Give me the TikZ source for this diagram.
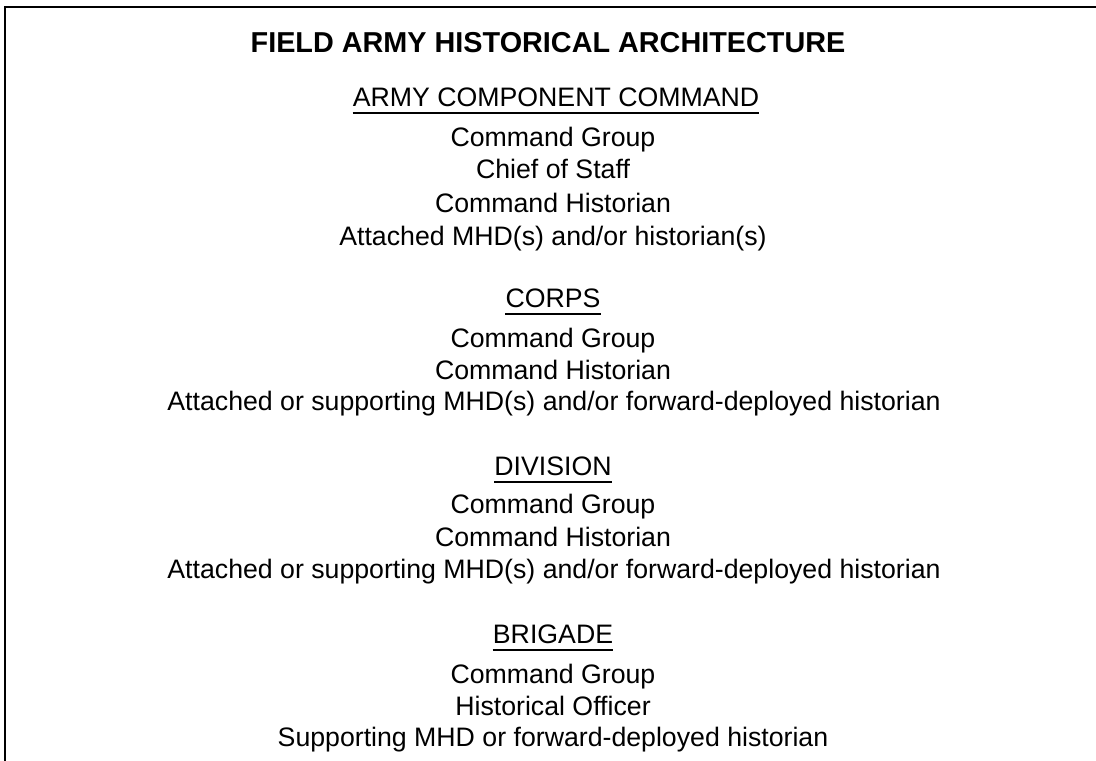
\documentclass[tikz,border=0pt]{standalone}
\usepackage{fontspec}
\setmainfont{Liberation Sans}
\begin{document}
\begin{tikzpicture}[x=1pt,y=-1pt,
  title/.style={anchor=base,inner sep=0pt,font=\fontsize{28.8}{34}\selectfont\bfseries},
  line/.style={anchor=base,inner sep=0pt,font=\fontsize{26.7}{32}\selectfont},
  head/.style={line},
  rule/.style={line width=2pt}]
\useasboundingbox (0,0) rectangle (1096,761);
% open frame: top and left edges only
\draw[line width=2pt] (4.5,761) -- (4.5,6.5) -- (1096,6.5);

\node[title] (t) at (548,52) {FIELD ARMY HISTORICAL ARCHITECTURE};

% Army component command
\node[head] (acc) at (556,106) {ARMY COMPONENT COMMAND};
\draw[rule] ([yshift=-6.5pt]acc.base west) -- ([yshift=-6.5pt]acc.base east);
\node[line] (acc1) at (553,146) {Command Group};
\node[line] (acc2) at (553,178) {Chief of Staff};
\node[line] (acc3) at (553,212) {Command Historian};
\node[line] (acc4) at (553,245) {Attached MHD(s) and/or historian(s)};

% Corps
\node[head] (co) at (553,307) {CORPS};
\draw[rule] ([yshift=-6.5pt]co.base west) -- ([yshift=-6.5pt]co.base east);
\node[line] (co1) at (553,347) {Command Group};
\node[line] (co2) at (553,379) {Command Historian};
\node[line] (co3) at (554,410) {Attached or supporting MHD(s) and/or forward-deployed historian};

% Division
\node[head] (dv) at (553,475) {DIVISION};
\draw[rule] ([yshift=-6.5pt]dv.base west) -- ([yshift=-6.5pt]dv.base east);
\node[line] (dv1) at (553,513) {Command Group};
\node[line] (dv2) at (553,546) {Command Historian};
\node[line] (dv3) at (554,578) {Attached or supporting MHD(s) and/or forward-deployed historian};

% Brigade
\node[head] (br) at (553,643) {BRIGADE};
\draw[rule] ([yshift=-6.5pt]br.base west) -- ([yshift=-6.5pt]br.base east);
\node[line] (br1) at (553,683) {Command Group};
\node[line] (br2) at (553,715) {Historical Officer};
\node[line] (br3) at (553,746) {Supporting MHD or forward-deployed historian};
\end{tikzpicture}
\end{document}
